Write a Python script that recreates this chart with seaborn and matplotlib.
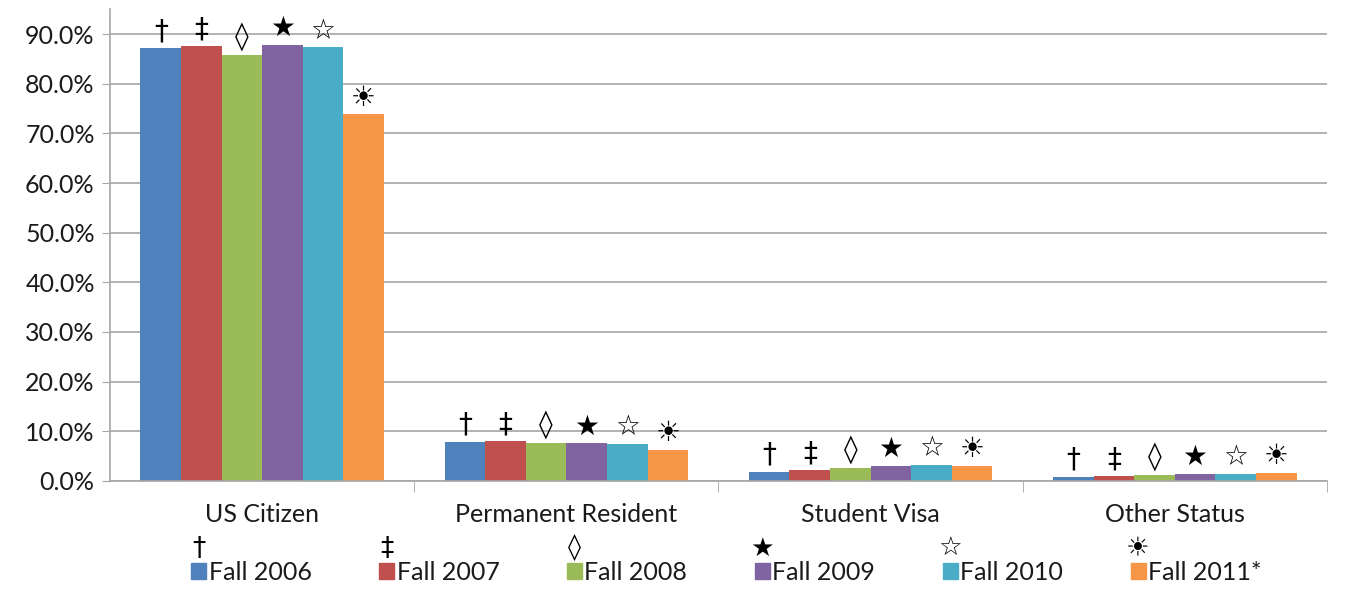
import numpy as np
import pandas as pd
import matplotlib
matplotlib.use('Agg')
import matplotlib.pyplot as plt
import seaborn as sns
from matplotlib.ticker import PercentFormatter, FixedLocator

# ==========================================
# Data
# ==========================================
categories = ['US Citizen', 'Permanent Resident', 'Student Visa', 'Other Status']
terms = ['Fall 2006', 'Fall 2007', 'Fall 2008', 'Fall 2009', 'Fall 2010', 'Fall 2011*']
symbols = ['†', '‡', '◊', '★', '☆', '☀']

fall_2006 = [0.872, 0.079, 0.019, 0.009]
fall_2007 = [0.875, 0.080, 0.022, 0.010]
fall_2008 = [0.858, 0.076, 0.026, 0.012]
fall_2009 = [0.878, 0.076, 0.030, 0.014]
fall_2010 = [0.873, 0.075, 0.033, 0.015]
fall_2011 = [0.738, 0.063, 0.030, 0.016]

series = [fall_2006, fall_2007, fall_2008, fall_2009, fall_2010, fall_2011]
colors = ['#4F81BD', '#C0504D', '#9BBB59', '#8064A2', '#4BACC6', '#F79646']

rows = []
for term, vals in zip(terms, series):
    for cat, v in zip(categories, vals):
        rows.append({'Status': cat, 'Term': term, 'Share': v})
df = pd.DataFrame(rows)

# ==========================================
# Plot
# ==========================================
sns.set_style('white')
plt.rcParams['font.family'] = ['Lato', 'DejaVu Sans']

fig = plt.figure(figsize=(13.45, 5.89), dpi=100)
ax = fig.add_axes([0.0818, 0.1834, 0.9048, 0.801])

sns.barplot(data=df, x='Status', y='Share', hue='Term', order=categories,
            hue_order=terms, palette=colors, width=0.8, saturation=1,
            edgecolor='none', ax=ax, legend=True)

# symbol above each bar
for cont, sym in zip(ax.containers, symbols):
    for bar in cont:
        ax.annotate(sym, (bar.get_x() + bar.get_width() / 2, bar.get_height()),
                    xytext=(0, 2), textcoords='offset points',
                    ha='center', va='bottom', fontsize=20,
                    family=['DejaVu Sans'], color='black')

ax.set_ylim(0, 0.95)
ax.set_xlim(-0.5, 3.5)
ax.yaxis.set_major_locator(FixedLocator(np.arange(0, 0.91, 0.1)))
ax.yaxis.set_major_formatter(PercentFormatter(1.0, decimals=1))
ax.set_xlabel('')
ax.set_ylabel('')
ax.grid(axis='y', color='#A6A6A6', linewidth=1.2)
ax.set_axisbelow(True)
for s in ['top', 'right']:
    ax.spines[s].set_visible(False)
for s in ['left', 'bottom']:
    ax.spines[s].set_color('#A6A6A6')
    ax.spines[s].set_linewidth(1.2)

ax.tick_params(axis='y', which='major', labelsize=18, length=6, color='#A6A6A6',
               left=True, pad=5, labelcolor='#1a1a1a')
ax.tick_params(axis='x', which='major', labelsize=18, length=0, pad=16,
               labelcolor='#1a1a1a')
ax.xaxis.set_minor_locator(FixedLocator([0.5, 1.5, 2.5, 3.5]))
ax.tick_params(axis='x', which='minor', length=8, color='#A6A6A6', bottom=True)

# legend at bottom with symbols above the swatches
ax.get_legend().remove()
handles = [plt.Rectangle((0, 0), 1, 1, color=c) for c in colors]
leg = fig.legend(handles, terms, loc='lower center', ncol=6, frameon=False,
                 bbox_to_anchor=(0.540, -0.03), fontsize=18,
                 handlelength=0.6, handleheight=0.6, handletextpad=0.1,
                 columnspacing=2.7, labelcolor='#1a1a1a')

fig.canvas.draw()
inv = fig.transFigure.inverted()
for h, sym in zip(leg.legend_handles, symbols):
    bb = h.get_window_extent()
    x0, y1 = inv.transform((bb.x0 + bb.width / 2, bb.y1))
    fig.text(x0, y1 + 0.003, sym, ha='center', va='bottom', fontsize=19,
             family=['DejaVu Sans'], color='black')

fig.savefig('out.png', dpi=100)
